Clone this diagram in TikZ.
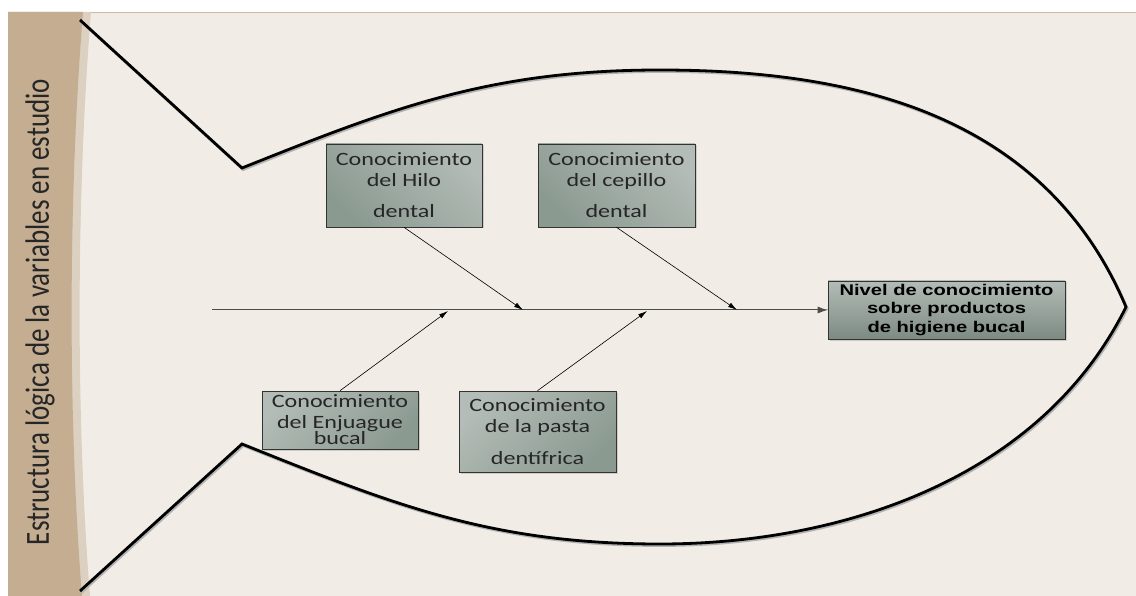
\documentclass[tikz,border=0pt]{standalone}
\usepackage{fontspec}
\setmainfont{Carlito}
\newfontfamily\causefont[FakeStretch=1.28]{Carlito}
\newfontfamily\effectfont[FakeStretch=1.3]{Liberation Sans}
\usetikzlibrary{arrows.meta,shadows}
\definecolor{panel}{HTML}{F1EDE6}
\definecolor{strip}{HTML}{C4AD91}
\definecolor{stripedge}{HTML}{DCD0C0}
\definecolor{boxlight}{HTML}{B3BCB6}
\definecolor{boxdark}{HTML}{8B9A91}
\tikzset{
  cause/.style={draw=black!80, line width=0.6pt, align=center, inner sep=0pt,
    font=\causefont\fontsize{18.8}{21}\selectfont, text=black!85,
    drop shadow={shadow xshift=1.5pt, shadow yshift=-1.5pt, opacity=0.3}},
  upper/.style={cause, top color=boxlight, bottom color=boxdark, shading angle=-45},
  lower/.style={cause, top color=boxlight, bottom color=boxdark, shading angle=45},
  effect/.style={cause, top color=boxlight, bottom color=boxdark!90!black,
    font=\effectfont\bfseries\fontsize{15.5}{18.5}\selectfont, text=black,
    minimum width=237pt, minimum height=58pt},
  bone/.style={line width=0.6pt, -{Latex[length=9pt,width=5pt]}},
  fish/.style={line width=2.8pt}
}
\begin{document}
\begin{tikzpicture}[x=1pt,y=-1pt]
    \useasboundingbox (0,0) rectangle (1136,596);
    \fill[white] (0,0) rectangle (1136,596);
    \fill[panel] (8,12) rectangle (1136,596);
    \draw[strip!85, line width=0.8pt] (8,12) -- (1136,12);
    \fill[stripedge] (8,12) -- (91,12) .. controls (76,200) and (76,420) .. (90,596) -- (8,596) -- cycle;
    \fill[strip] (8,12) -- (83,12) .. controls (68,200) and (68,420) .. (82,596) -- (8,596) -- cycle;
    \node[rotate=90, font=\fontsize{27}{30}\selectfont, text=black!85] (title) at (40,312)
        {\scalebox{1}[1.25]{Estructura lógica de la variables en estudio}};
    % fish outline
    \draw[fish, black!30, xshift=1.2pt, yshift=-1.5pt] (80,20) -- (242,168)
        .. controls (392,108) and (490,70) .. (660,70)
        .. controls (860,70) and (1046,117) .. (1126,307)
        .. controls (1040,480) and (840,544) .. (660,544)
        .. controls (490,544) and (392,504) .. (242,444) -- (80,591);
    \draw[fish] (80,20) -- (242,168)
        .. controls (392,108) and (490,70) .. (660,70)
        .. controls (860,70) and (1046,117) .. (1126,307)
        .. controls (1040,480) and (840,544) .. (660,544)
        .. controls (490,544) and (392,504) .. (242,444) -- (80,591);
    % boxes
    \node[upper, minimum width=156pt, minimum height=83pt] (hilo) at (404,185.5)
        {Conocimiento\\del Hilo\\[10pt]dental};
    \node[upper, minimum width=157pt, minimum height=83pt] (cepillo) at (616.5,185.5)
        {Conocimiento\\del cepillo\\[10pt]dental};
    \node[lower, minimum width=156pt, minimum height=58pt] (enjuague) at (340,420)
        {Conocimiento\\del Enjuague\\[-5pt]bucal};
    \node[lower, minimum width=157pt, minimum height=81pt] (pasta) at (537.5,431.5)
        {Conocimiento\\de la pasta\\[11pt]dentífrica};
    \node[effect] (nivel) at (946.5,310) {Nivel de conocimiento\\sobre productos\\de higiene bucal};
    % spine
    \coordinate (tail) at (212,310);
    \coordinate (hilo-end) at (523,310);
    \coordinate (cepillo-end) at (737,310);
    \coordinate (enjuague-end) at (448,311);
    \coordinate (pasta-end) at (647,311);
    \draw[black!30, line width=1pt, yshift=-1pt] (tail) -- (nivel.west);
    \draw[black!70, line width=1pt, -{Latex[length=10pt,width=7pt]}] (tail) -- (nivel.west);
    \draw[bone] (hilo.south) -- (hilo-end);
    \draw[bone] (cepillo.south) -- (cepillo-end);
    \draw[bone] (enjuague.north) -- (enjuague-end);
    \draw[bone] (pasta.north) -- (pasta-end);
\end{tikzpicture}
\end{document}
